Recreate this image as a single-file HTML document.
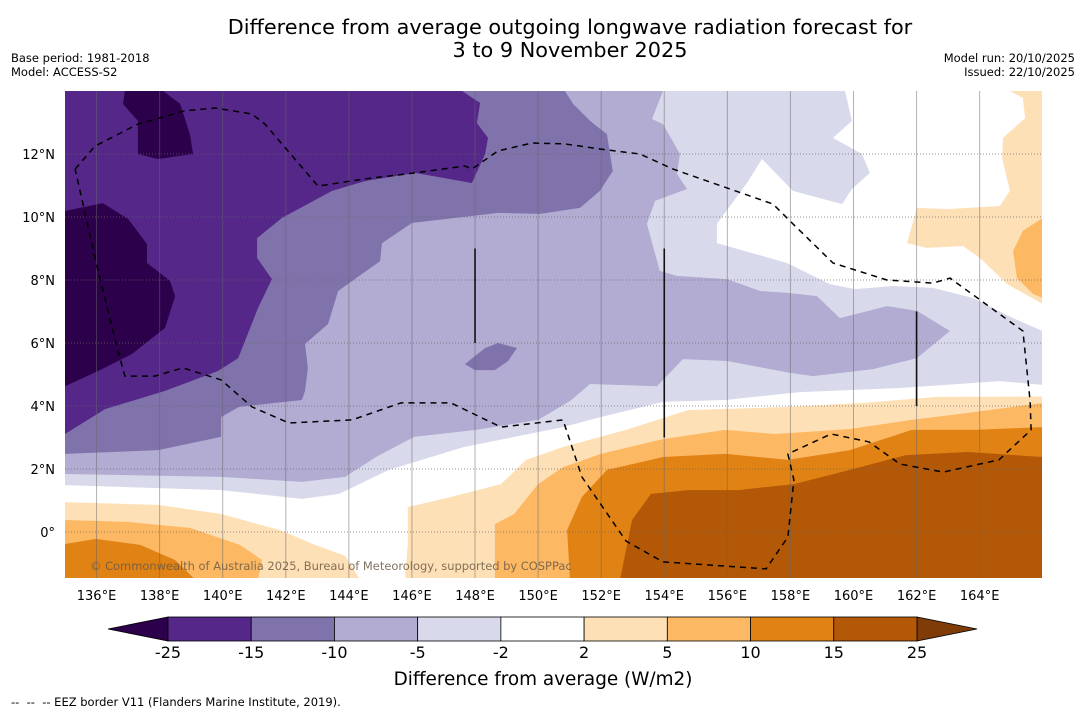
<!DOCTYPE html>
<html><head><meta charset="utf-8"><style>
html,body{margin:0;padding:0;background:#fff;}
svg{display:block;font-family:"DejaVu Sans","Liberation Sans",sans-serif;}
</style></head><body>
<svg id="chart" width="1085" height="713" viewBox="0 0 1085 713" xmlns="http://www.w3.org/2000/svg">
<rect x="0" y="0" width="1085" height="713" fill="#fff"/>
<text x="570" y="34" font-size="20.8" text-anchor="middle" fill="#000">Difference from average outgoing longwave radiation forecast for</text>
<text x="570" y="57" font-size="20.8" text-anchor="middle" fill="#000">3 to 9 November 2025</text>
<text x="11" y="62" font-size="11.5" fill="#000">Base period: 1981-2018</text>
<text x="11" y="76" font-size="11.5" fill="#000">Model: ACCESS-S2</text>
<text x="1075" y="62" font-size="11.5" text-anchor="end" fill="#000">Model run: 20/10/2025</text>
<text x="1075" y="76" font-size="11.5" text-anchor="end" fill="#000">Issued: 22/10/2025</text>
<defs><clipPath id="mapclip"><rect x="65" y="91" width="977" height="487"/></clipPath></defs>
<g id="map" clip-path="url(#mapclip)"></g>
<g id="axes"></g>
<g id="cbar"></g>
<text x="543" y="685" font-size="18.4" text-anchor="middle" fill="#000">Difference from average (W/m2)</text>
<text x="11" y="706" font-size="11.5" fill="#000" xml:space="preserve">--  --  -- EEZ border V11 (Flanders Marine Institute, 2019).</text>
</svg>
<script>
const NS="http://www.w3.org/2000/svg";
// data arrays ([lon, lat] contours)
const lonTicks=[136,138,140,142,144,146,148,150,152,154,156,158,160,162,164];
const latTicks=[12,10,8,6,4,2,0];
const cbarLevels=[-25,-15,-10,-5,-2,2,5,10,15,25];
const cbarColors=["#542788","#8073ac","#b2abd2","#d8daeb","#ffffff","#fee0b6","#fdb863","#e08214","#b35806"];
const le2=[[135,14],[159.73,14],[159.95,13.05],[159.35,12.51],[160.27,12],[160.52,11.4],[159.95,10.89],[159.64,10.41],[158.08,10.83],[157.1,11.84],[156.62,11.08],[155.67,9.78],[155.67,9.17],[157.89,8.54],[159.25,7.87],[160.05,7.71],[161.25,7.81],[162.52,7.75],[163.79,7.43],[165.06,6.79],[166,6.38],[166,4.67],[164.64,4.79],[161.47,4.57],[158.3,4.44],[155.93,4.19],[153.96,4.13],[151.99,3.65],[150.79,3.33],[147.65,2.7],[145.27,1.97],[143.69,1.21],[142.51,1.05],[139.95,1.33],[135,1.49]];
const le5=[[135,14],[153.96,14],[153.61,13.11],[153.96,12.95],[154.5,12],[154.4,11.37],[154.72,10.89],[153.71,10.51],[153.45,9.78],[153.86,8.29],[154.4,8.13],[155.99,8.03],[157.04,7.65],[157.92,7.59],[158.84,7.49],[159.57,6.79],[161.06,7.17],[162.01,7.02],[163.06,6.38],[162.01,5.52],[160.62,5.17],[158.72,4.95],[157.99,5.05],[155.99,5.43],[154.59,5.49],[153.77,4.63],[151.65,4.7],[151.01,4.16],[150,3.56],[148.03,3.24],[146.07,3.02],[144.86,2.38],[143.88,1.75],[142.51,1.59],[139.95,1.75],[135,1.84]];
const le10=[[135,14],[150.85,14],[151.11,13.59],[151.65,13.05],[152.18,12.63],[152.37,11.46],[151.96,10.83],[151.33,10.29],[150.06,10.1],[148.73,10.13],[146,9.81],[145.05,9.17],[144.99,8.6],[143.66,7.65],[143.34,6.6],[142.61,5.97],[142.7,5.21],[142.61,4.48],[142.51,4.19],[140.52,3.97],[139.95,3.65],[139.95,3.02],[137.95,2.6],[135,2.48]];
const le10island=[[147.68,5.33],[148.32,5.84],[148.73,6.0],[149.33,5.84],[149.05,5.43],[148.63,5.14],[148,5.14]];
const le15=[[135,14],[147.59,14],[148.16,13.62],[148.06,12.98],[148.41,12.51],[148.32,12],[147.9,11.08],[146.1,11.4],[144.51,11.14],[143.47,10.83],[141.88,9.97],[141.09,9.33],[141.09,8.7],[141.56,8.03],[141.12,7.11],[140.49,5.52],[139.85,5.11],[138.17,4.48],[136.27,3.9],[135,3.11]];
const le25a=[[136.9,14],[136.84,13.59],[137.31,13.05],[137.31,12],[137.95,11.84],[139.06,12],[138.96,12.63],[138.65,13.59],[138.11,14]];
const le25b=[[135,10.19],[136.2,10.44],[137,9.94],[137.6,9.14],[137.6,8.54],[138.33,7.97],[138.49,7.49],[138.17,6.48],[137.12,5.65],[136.05,5.11],[135,4.63]];
const ge2=[[135,-1.5],[135,0.95],[137.95,0.86],[139.95,0.57],[141.82,0.06],[142.93,-0.41],[143.88,-0.76],[144.35,-1.5],[145.78,-1.5],[145.87,-0.38],[145.87,0.79],[147.24,1.11],[148.82,1.52],[149.62,2.29],[150.79,2.7],[152.79,3.24],[154.75,3.87],[157.92,3.97],[160.3,4.1],[162.65,4.29],[166,4.3],[166,-1.5]];
const ge5a=[[135,-1.5],[135,0.38],[136.97,0.32],[138.96,0.13],[140.55,-0.41],[141.25,-0.89],[141.12,-1.5]];
const ge5b=[[148.63,-1.5],[148.63,0.25],[149.24,0.57],[150,1.52],[150.79,2.06],[151.99,2.48],[153.96,2.95],[155.93,3.24],[157.51,3.11],[159.89,3.27],[161.85,3.56],[163.63,3.78],[166,4.1],[166,-1.5]];
const ge10a=[[151.01,-1.5],[150.92,0.06],[151.39,1.11],[152.18,1.97],[153.96,2.38],[155.93,2.48],[157.92,2.29],[159.89,2.6],[161.85,3.24],[163.85,3.24],[166,3.33],[166,-1.5]];
const ge10b=[[135,-0.38],[135.98,-0.22],[137.38,-0.41],[138.49,-0.89],[139.12,-1.5],[135,-1.5]];
const ge15=[[152.6,-1.5],[152.98,0.38],[153.58,1.21],[154.75,1.33],[156.34,1.33],[158.11,1.52],[159.89,1.97],[161.66,2.44],[163.63,2.54],[166,2.38],[166,-1.5]];
const ge2ne=[[164.96,14],[166,14],[166,7.24],[164.87,7.87],[164.01,8.7],[163.47,9.08],[162.33,9.02],[161.7,9.17],[162.01,10.29],[162.96,10.25],[164.64,10.35],[164.96,10.83],[164.71,11.87],[164.74,12.51],[165.44,13.14],[165.37,13.78]];
const ge5ne=[[166,9.97],[165.37,9.56],[165.06,8.92],[165.18,8.06],[165.69,7.56],[166,7.43]];
const eez=[[135.32,11.52],[135.95,12.25],[137.31,12.95],[138.8,13.37],[139.76,13.46],[140.93,13.27],[141.34,12.95],[143.02,10.98],[144.51,11.21],[146.1,11.4],[147.68,11.62],[147.9,11.52],[148.73,12.1],[149.81,12.35],[150.85,12.32],[151.96,12.16],[153.23,12.0],[154.28,11.52],[157.45,10.41],[157.99,9.87],[159.35,8.54],[161.06,8.0],[162.52,7.9],[163.06,8.06],[165.37,6.38],[165.6,4.16],[165.63,3.24],[164.61,2.29],[162.84,1.9],[161.47,2.16],[160.49,2.86],[159.29,3.11],[157.92,2.48],[158.11,1.65],[157.92,-0.16],[157.23,-1.17],[153.96,-0.95],[152.79,-0.29],[151.39,1.75],[150.79,3.56],[148.82,3.33],[147.24,4.1],[145.65,4.1],[144.1,3.56],[142.1,3.46],[140.93,3.97],[139.95,4.83],[138.74,5.21],[137.85,4.95],[136.9,4.95],[136.68,5.75],[136.05,8.29],[135.32,11.52]];
const stickLon=[148,154,162];
const stickTop=[9,9,7];
const stickBot=[6,3,4];

const x=lon=>65+(lon-135)*31.54;
const y=lat=>91+(14-lat)*31.5;
const pts=a=>a.map(p=>x(p[0]).toFixed(1)+","+y(p[1]).toFixed(1)).join(" ");
const map=document.getElementById("map");
const axes=document.getElementById("axes");
const cbar=document.getElementById("cbar");
function poly(parent,arr,fill,name){
  const p=document.createElementNS(NS,"polygon");
  p.setAttribute("points",pts(arr));
  p.setAttribute("fill",fill);
  
  
  parent.appendChild(p);
}
poly(map,le2,"#d8daeb","contour-le-minus2");
poly(map,le5,"#b2abd2","contour-le-minus5");
poly(map,le10,"#8073ac","contour-le-minus10");
poly(map,le10island,"#8073ac","contour-le-minus10-island");
poly(map,le15,"#542788","contour-le-minus15");
poly(map,le25a,"#2d004b","contour-le-minus25-north");
poly(map,le25b,"#2d004b","contour-le-minus25-west");
poly(map,ge2,"#fee0b6","contour-ge-2");
poly(map,ge5a,"#fdb863","contour-ge-5-west");
poly(map,ge5b,"#fdb863","contour-ge-5-east");
poly(map,ge10a,"#e08214","contour-ge-10-east");
poly(map,ge10b,"#e08214","contour-ge-10-west");
poly(map,ge15,"#b35806","contour-ge-15");
poly(map,ge2ne,"#fee0b6","contour-ge-2-northeast");
poly(map,ge5ne,"#fdb863","contour-ge-5-northeast");
// grid
lonTicks.forEach(v=>{
  const l=document.createElementNS(NS,"line");
  l.setAttribute("x1",x(v));l.setAttribute("x2",x(v));l.setAttribute("y1",91);l.setAttribute("y2",578);
  l.setAttribute("stroke","#666");l.setAttribute("stroke-opacity","0.5");l.setAttribute("stroke-width","1");
  
  
  map.appendChild(l);
  const t=document.createElementNS(NS,"text");
  t.setAttribute("x",x(v));t.setAttribute("y",600);t.setAttribute("font-size","13");t.setAttribute("text-anchor","middle");
  t.textContent=v+"°E";
  
  
  axes.appendChild(t);
});
latTicks.forEach(v=>{
  const l=document.createElementNS(NS,"line");
  l.setAttribute("x1",65);l.setAttribute("x2",1042);l.setAttribute("y1",y(v));l.setAttribute("y2",y(v));
  l.setAttribute("stroke","#666");l.setAttribute("stroke-width","1");l.setAttribute("stroke-dasharray","1,2");l.setAttribute("stroke-opacity","0.7");
  
  
  map.appendChild(l);
  const t=document.createElementNS(NS,"text");
  t.setAttribute("x",55);t.setAttribute("y",y(v)+5);t.setAttribute("font-size","13");t.setAttribute("text-anchor","end");
  t.textContent=v===0?"0°":v+"°N";
  
  
  axes.appendChild(t);
});
// EEZ border
const e=document.createElementNS(NS,"polyline");
e.setAttribute("points",pts(eez));e.setAttribute("fill","none");e.setAttribute("stroke","#000");
e.setAttribute("stroke-width","1.5");e.setAttribute("stroke-dasharray","6,5");


map.appendChild(e);
stickLon.forEach((v,i)=>{
  const l=document.createElementNS(NS,"line");
  l.setAttribute("x1",x(v));l.setAttribute("x2",x(v));l.setAttribute("y1",y(stickTop[i]));l.setAttribute("y2",y(stickBot[i]));
  l.setAttribute("stroke","#111");l.setAttribute("stroke-width","1.6");
  
  
  map.appendChild(l);
});
const c=document.createElementNS(NS,"text");
c.setAttribute("x",90);c.setAttribute("y",570);c.setAttribute("font-size","11.45");c.setAttribute("fill","#6b5a45");c.setAttribute("fill-opacity","0.85");
c.textContent="© Commonwealth of Australia 2025, Bureau of Meteorology, supported by COSPPac";


map.appendChild(c);
// colorbar
const cbX0=168,cbX1=917,cbY=617,cbH=24;
const bw=(cbX1-cbX0)/cbarColors.length;
const tl=document.createElementNS(NS,"polygon");
tl.setAttribute("points",`108,${cbY+cbH/2} ${cbX0},${cbY} ${cbX0},${cbY+cbH}`);
tl.setAttribute("fill","#2d004b");tl.setAttribute("stroke","#000");tl.setAttribute("stroke-width","0.8");


cbar.appendChild(tl);
const tr=document.createElementNS(NS,"polygon");
tr.setAttribute("points",`977,${cbY+cbH/2} ${cbX1},${cbY} ${cbX1},${cbY+cbH}`);
tr.setAttribute("fill","#7f3b08");tr.setAttribute("stroke","#000");tr.setAttribute("stroke-width","0.8");


cbar.appendChild(tr);
cbarColors.forEach((col,i)=>{
  const r=document.createElementNS(NS,"rect");
  r.setAttribute("x",cbX0+i*bw);r.setAttribute("y",cbY);r.setAttribute("width",bw);r.setAttribute("height",cbH);
  r.setAttribute("fill",col);r.setAttribute("stroke","#000");r.setAttribute("stroke-width","0.8");
  
  
  cbar.appendChild(r);
});
cbarLevels.forEach((v,i)=>{
  const t=document.createElementNS(NS,"text");
  t.setAttribute("x",cbX0+i*bw);t.setAttribute("y",658);t.setAttribute("font-size","16");t.setAttribute("text-anchor","middle");
  t.textContent=v;
  
  
  cbar.appendChild(t);
});
</script>
</body></html>
